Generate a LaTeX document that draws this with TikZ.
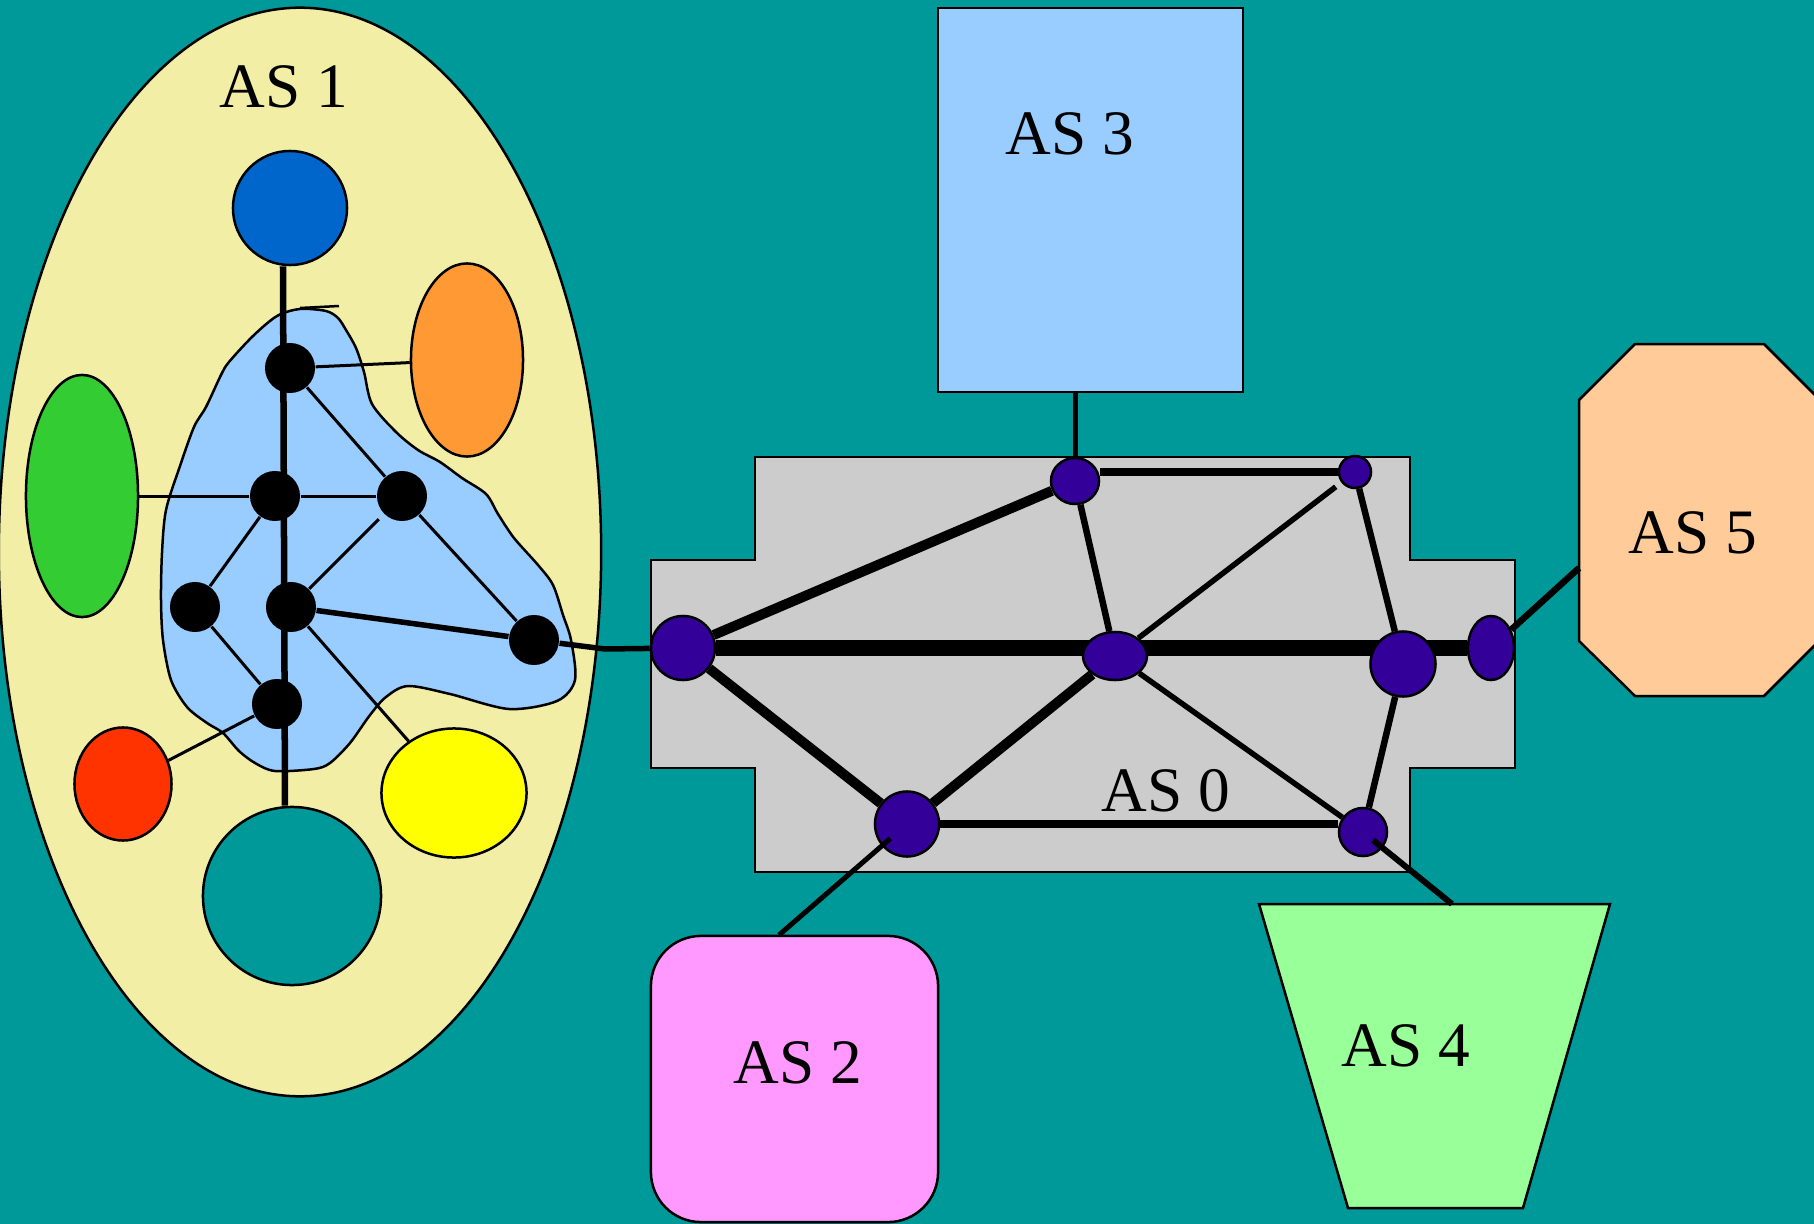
\documentclass[tikz,border=0pt]{standalone}
\usepackage{fontspec}
\setmainfont{Liberation Serif}
\usetikzlibrary{shapes.geometric}

\definecolor{sea}{HTML}{009999}
\definecolor{sand}{HTML}{F2EEA6}
\definecolor{sky}{HTML}{99CCFF}
\definecolor{deepblue}{HTML}{0066CC}
\definecolor{tangerine}{HTML}{FF9933}
\definecolor{leaf}{HTML}{33CC33}
\definecolor{scarlet}{HTML}{FF3300}
\definecolor{lemon}{HTML}{FFFF00}
\definecolor{silver}{HTML}{CCCCCC}
\definecolor{indigo}{HTML}{330099}
\definecolor{pinkish}{HTML}{FF99FF}
\definecolor{mint}{HTML}{99FF99}
\definecolor{peach}{HTML}{FFCC99}

\begin{document}
\begin{tikzpicture}[x=0.01cm,y=-0.01cm,
    hub/.style={circle,fill=black,inner sep=0pt,minimum size=0.5cm},
    router/.style={ellipse,draw,fill=indigo,line width=0.025cm,inner sep=0pt},
    blob/.style={ellipse,draw,line width=0.025cm,inner sep=0pt},
    outline/.style={draw,line width=0.025cm},
    aslabel/.style={font=\fontsize{18}{21}\selectfont},
    wire/.style={line width=0.03cm}]
    \useasboundingbox (0,0) rectangle (1814,1224);
    \fill[sea] (0,0) rectangle (1814,1224);
    \clip (0,0) rectangle (1814,1224);

    % AS 1
    \draw[outline,fill=sand] (300,552) ellipse[x radius=3.01cm,y radius=5.44cm];
    \node[aslabel] (as1lbl) at (284,87) {AS 1};
    \draw[outline,fill=sky] plot[smooth cycle,tension=0.5] coordinates {
      (300,309) (326,311) (338,318) (346,330) (356,348) (364,372) (372,404)
      (396,432) (418,450) (440,462) (462,478) (486,494) (498,514) (514,538)
      (538,565) (553,585) (563,615) (571,640) (575,680) (557,701) (509,709)
      (450,694) (408,686) (386,697) (370,715) (350,743) (330,763) (314,769)
      (275,771) (255,763) (239,751) (223,733) (207,723) (187,707) (171,680)
      (163,640) (161,600) (162,553) (166,510) (180,466) (194,427) (206,407)
      (221,375) (229,362) (253,336) (277,316)};
    \draw[line width=0.025cm] (300,308) -- (339,306);

    \node[blob,fill=deepblue,minimum width=1.14cm,minimum height=1.14cm] (top) at (290,208) {};
    \node[blob,fill=sea,minimum width=1.78cm,minimum height=1.78cm] (hole) at (292,896) {};
    \node[blob,fill=tangerine,minimum width=1.12cm,minimum height=1.93cm] (orange) at (467,360) {};
    \node[blob,fill=leaf,minimum width=1.12cm,minimum height=2.42cm] (green) at (82,496) {};
    \node[blob,fill=scarlet,minimum width=0.97cm,minimum height=1.13cm] (red) at (123,784) {};
    \node[blob,fill=lemon,minimum width=1.45cm,minimum height=1.29cm] (yellow) at (454,793) {};
    \draw[line width=0.065cm] ([xshift=-0.07cm]top.south) -- ([xshift=-0.07cm]hole.north);

    \node[hub] (n1) at (290,368) {};
    \node[hub] (n2) at (275,496) {};
    \node[hub] (n3) at (402,496) {};
    \node[hub] (n4) at (195,607) {};
    \node[hub] (n5) at (291,607) {};
    \node[hub] (n6) at (277,704) {};
    \node[hub] (n7) at (534,640) {};
    \draw[wire] (n1) -- (orange);
    \draw[wire] (n1) -- (n3);
    \draw[wire] (n2) -- (n3);
    \draw[wire] (n2) -- (green);
    \draw[wire] (n2) -- (n4);
    \draw[wire,shorten >=0.07cm] (n5) -- (n3);
    \draw[wire] (n3) -- (n7);
    \draw[wire] (n4) -- (n6);
    \draw[wire] (n6) -- (red);
    \draw[wire] (n5) -- (yellow);
    \draw[line width=0.055cm] (n5) -- (n7);

    % AS 0
    \draw[outline,fill=silver] (755,457) -- (1410,457) -- (1410,560) -- (1515,560)
      -- (1515,768) -- (1410,768) -- (1410,872) -- (755,872) -- (755,768)
      -- (651,768) -- (651,560) -- (755,560) -- cycle;
    \node[aslabel] (as0lbl) at (1166,791) {AS 0};
    \node[router,minimum width=0.64cm,minimum height=0.64cm] (L) at (683,648) {};
    \node[router,minimum width=0.46cm,minimum height=0.64cm] (RR) at (1491,648) {};
    \node[router,minimum width=0.48cm,minimum height=0.46cm] (T) at (1075,481) {};
    \node[router,minimum width=0.32cm,minimum height=0.32cm] (TR) at (1355,472) {};
    \node[router,minimum width=0.64cm,minimum height=0.65cm] (BL) at (907,824) {};
    \node[router,minimum width=0.48cm,minimum height=0.48cm] (BR) at (1363,832) {};
    \draw[line width=0.16cm] (L) -- (RR);
    \node[router,minimum width=0.64cm,minimum height=0.48cm] (C) at (1115,656) {};
    \node[router,minimum width=0.65cm,minimum height=0.65cm] (R) at (1403,664) {};

    \coordinate (gw) at (605,649);
    \draw[line width=0.055cm] (n7) -- (gw) -- (L);
    \draw[line width=0.10cm] (L) -- (T);
    \draw[line width=0.10cm] (L) -- (BL);
    \draw[line width=0.10cm] (BL) -- (C);
    \draw[line width=0.075cm] (BL) -- (BL -| BR.west);
    \draw[line width=0.075cm] (TR -| T.east) -- (TR);
    \draw[line width=0.065cm] (T) -- (C);
    \draw[line width=0.055cm,shorten <=0.07cm] (TR) -- (C);
    \draw[line width=0.065cm] (TR) -- (R);
    \draw[line width=0.055cm] (C) -- (BR);
    \draw[line width=0.065cm] (R) -- (BR);

    % AS 3
    \node[outline,fill=sky,minimum width=3.05cm,minimum height=3.84cm] (as3) at (1090.5,200) {};
    \node[aslabel] (as3lbl) at (1070,134) {AS 3};
    \draw[line width=0.05cm] (as3.south -| T) -- (T);

    % AS 2
    \node[outline,fill=pinkish,rounded corners=0.5cm,minimum width=2.87cm,minimum height=2.86cm] (as2) at (794.5,1079) {};
    \node[aslabel] (as2lbl) at (798,1063) {AS 2};
    \coordinate (as2port) at (779,935);
    \draw[line width=0.05cm,shorten >=0.22cm] (as2port) -- (BL.center);

    % AS 4
    \draw[outline,fill=mint] (1259,904) -- (1610,904) -- (1523,1208) -- (1348,1208) -- cycle;
    \node[aslabel] (as4lbl) at (1406,1046) {AS 4};
    \coordinate (as4port) at (1452,904);
    \draw[line width=0.06cm,shorten >=0.13cm] (as4port) -- (BR.center);

    % AS 5
    \draw[outline,fill=peach] (1635,344) -- (1764,344) -- (1820,400) -- (1820,640)
      -- (1764,696) -- (1635,696) -- (1579,641) -- (1579,400) -- cycle;
    \node[aslabel] (as5lbl) at (1693,533) {AS 5};
    \coordinate (as5port) at (1579,568);
    \draw[line width=0.065cm] (RR) -- (as5port);
\end{tikzpicture}
\end{document}
